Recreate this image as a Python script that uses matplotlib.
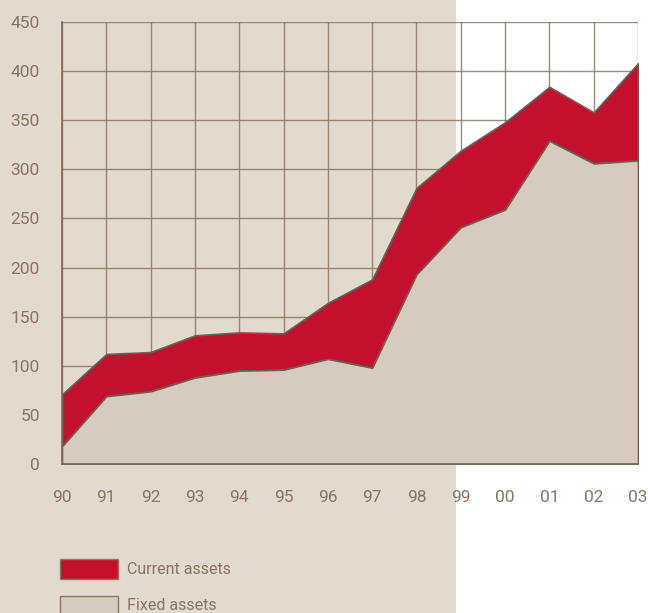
import numpy as np
import matplotlib.pyplot as plt
from matplotlib.patches import Rectangle

# Data
years = ['90', '91', '92', '93', '94', '95', '96', '97', '98', '99', '00', '01', '02', '03']
fixed_assets = [18, 69, 74, 88, 95, 96, 107, 98, 193, 241, 259, 329, 306, 309]
total_assets = [71, 112, 114, 131, 134, 133, 164, 188, 281, 319, 348, 384, 358, 408]

beige = '#e2d9cf'
fixed_col = '#d5cbbf'
red = '#c3102f'
line_col = '#8b7762'
text_col = '#8a7560'

plt.rcParams['font.family'] = ['Roboto', 'DejaVu Sans']

fig = plt.figure(figsize=(6.48, 6.13), dpi=100)
fig.patch.set_facecolor('white')
fig.patches.append(Rectangle((0, 0), 456 / 648, 1, transform=fig.transFigure,
                             facecolor=beige, edgecolor='none', zorder=-10))

ax = fig.add_axes([62 / 648, 1 - 464 / 613, 576 / 648, 442 / 613])
ax.set_facecolor('none')

x = np.arange(len(years))
ax.fill_between(x, fixed_assets, total_assets, facecolor=red, edgecolor='#6e6050',
                linewidth=1.2, zorder=3)
ax.fill_between(x, 0, fixed_assets, facecolor=fixed_col, edgecolor='#6e6050',
                linewidth=1.2, zorder=4)

ax.set_xlim(0, len(years) - 1)
ax.set_ylim(0, 450)
ax.set_xticks(x)
ax.set_xticklabels(years)
ax.set_yticks(np.arange(0, 451, 50))
ax.grid(True, color=line_col, linewidth=1.0, alpha=0.85, zorder=0)
ax.set_axisbelow(True)

for s in ['top', 'right']:
    ax.spines[s].set_visible(False)
for s in ['left', 'bottom']:
    ax.spines[s].set_color('#7a6a55')
    ax.spines[s].set_linewidth(1.2)
    ax.spines[s].set_zorder(5)

ax.tick_params(length=0, labelsize=12.5, colors=text_col)
ax.tick_params(axis='x', pad=18.5)
ax.tick_params(axis='y', pad=16)

# Legend
fig.patches.append(Rectangle((60 / 648, 1 - 579 / 613), 58 / 648, 20 / 613,
                             transform=fig.transFigure, facecolor=red,
                             edgecolor='#8b7762', linewidth=1))
fig.patches.append(Rectangle((60 / 648, 1 - 616 / 613), 58 / 648, 20 / 613,
                             transform=fig.transFigure, facecolor=fixed_col,
                             edgecolor='#8b7762', linewidth=1))
fig.text(127 / 648, 1 - 569 / 613, 'Current assets', color=text_col, fontsize=11.5,
         va='center', ha='left')
fig.text(127 / 648, 1 - 606 / 613, 'Fixed assets', color=text_col, fontsize=11.5,
         va='center', ha='left')

fig.savefig('out.png', dpi=100)
